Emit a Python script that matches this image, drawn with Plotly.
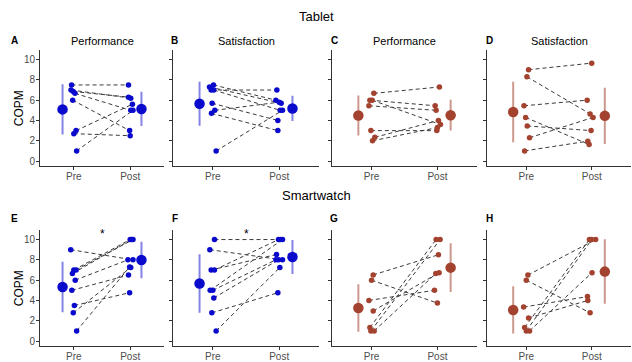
import numpy as np
import plotly.graph_objects as go

# ---------------- data (pairs: pre[i] -> post[i]) ----------------
A_pre = [7.5, 7.0, 6.86, 6.67, 6.0, 3.0, 2.7, 1.0]
A_post = [7.5, 6.2, 6.3, 5.0, 3.0, 5.6, 2.5, 5.0]
A_jpre = [-0.04, -0.05, -0.01, 0.02, -0.02, 0.04, 0.0, 0.05]
A_jpost = [-0.03, 0.01, -0.03, 0.01, -0.01, 0.04, 0.0, 0.05]

B_pre = [7.5, 7.3, 7.0, 7.0, 5.7, 5.0, 4.7, 1.0]
B_post = [6.0, 5.7, 7.0, 5.0, 4.0, 5.8, 3.0, 5.0]
B_jpre = [0.01, -0.05, -0.025, 0.015, -0.01, 0.03, -0.02, 0.05]
B_jpost = [-0.05, 0.03, -0.035, 0.015, -0.02, 0.0, -0.02, 0.05]

C_pre = [6.67, 6.0, 6.0, 5.45, 3.0, 2.34, 2.0]
C_post = [7.3, 5.45, 3.6, 5.0, 3.0, 4.0, 3.3]
C_jpre = [0.035, -0.025, 0.01, -0.04, -0.01, 0.05, 0.015]
C_jpost = [0.03, -0.035, 0.045, -0.02, -0.01, 0.015, 0.0]

D_pre = [9.0, 8.3, 5.45, 4.3, 3.46, 2.3, 1.0]
D_post = [9.65, 4.65, 6.0, 1.63, 3.0, 4.3, 1.96]
D_jpre = [0.035, 0.01, -0.035, -0.01, 0.015, 0.05, -0.025]
D_jpost = [0.0, -0.025, -0.07, -0.04, -0.01, 0.02, -0.06]

E_pre = [9.0, 7.0, 7.0, 6.65, 6.0, 5.0, 3.5, 2.78, 1.0]
E_post = [8.0, 10.0, 10.0, 10.0, 8.0, 6.5, 4.76, 7.25, 7.3]
E_jpre = [-0.055, 0.0, 0.04, -0.025, 0.025, -0.035, 0.01, -0.01, 0.05]
E_jpost = [0.05, 0.0, 0.05, 0.025, -0.04, -0.03, -0.01, 0.01, -0.01]

F_pre = [10.0, 9.0, 7.0, 7.0, 5.0, 5.0, 4.25, 2.78, 1.0]
F_post = [10.0, 8.0, 8.53, 10.0, 10.0, 8.0, 8.0, 4.76, 7.25]
F_jpre = [0.025, -0.045, -0.025, 0.025, -0.04, 0.0, 0.015, -0.015, 0.05]
F_jpost = [0.02, 0.05, -0.04, -0.01, 0.05, -0.05, -0.01, -0.02, 0.01]

G_pre = [6.52, 6.0, 4.0, 2.97, 1.34, 1.0, 1.0]
G_post = [8.5, 3.74, 5.0, 6.74, 10.0, 10.0, 6.65]
G_jpre = [0.025, 0.0, -0.04, 0.025, -0.025, -0.01, 0.04]
G_jpost = [0.015, 0.0, -0.045, 0.025, -0.02, 0.04, -0.025]

H_pre = [6.5, 6.0, 3.35, 2.27, 1.34, 1.0, 1.0]
H_post = [10.0, 2.78, 4.38, 4.0, 10.0, 10.0, 6.74]
H_jpre = [0.025, 0.0, -0.04, 0.035, -0.025, 0.0, 0.05]
H_jpost = [0.06, -0.025, -0.065, -0.06, -0.035, 0.0, 0.005]

panel_letters = ["A", "B", "C", "D", "E", "F", "G", "H"]
panel_titles = ["Performance", "Satisfaction", "Performance", "Satisfaction"]
row_titles = ["Tablet", "Smartwatch"]
time_labels = ["Pre", "Post"]
y_ticks = [0, 2, 4, 6, 8, 10]
y_title = "COPM"
star_panels = ["E", "F"]

BLUE = "#0A0ACD"
BLUE_BAR = "rgba(10,10,205,0.5)"
BROWN = "#A3432F"
BROWN_BAR = "rgba(163,67,47,0.55)"

panels = [
    (A_pre, A_post, A_jpre, A_jpost, BLUE, BLUE_BAR),
    (B_pre, B_post, B_jpre, B_jpost, BLUE, BLUE_BAR),
    (C_pre, C_post, C_jpre, C_jpost, BROWN, BROWN_BAR),
    (D_pre, D_post, D_jpre, D_jpost, BROWN, BROWN_BAR),
    (E_pre, E_post, E_jpre, E_jpost, BLUE, BLUE_BAR),
    (F_pre, F_post, F_jpre, F_jpost, BLUE, BLUE_BAR),
    (G_pre, G_post, G_jpre, G_jpost, BROWN, BROWN_BAR),
    (H_pre, H_post, H_jpre, H_jpost, BROWN, BROWN_BAR),
]

# ---------------- layout geometry (pixels) ----------------
W, H = 632, 362
col_px = [(40, 164), (173, 319), (332, 477), (487, 631)]
row_px = [(51, 168), (233, 350)]


def xd(a, b):
    return [a / W, b / W]


def yd(top, bot):
    return [1 - bot / H, 1 - top / H]


fig = go.Figure()
layout = dict(
    width=W, height=H, margin=dict(l=0, r=0, t=0, b=0),
    plot_bgcolor="white", paper_bgcolor="white", showlegend=False,
    font=dict(family="Liberation Sans, Arial, sans-serif", size=10, color="black"),
)
annotations = []
X_PRE, X_POST, OFF = 1.0, 2.0, 0.2

for i, (pre, post, jpre, jpost, col, barcol) in enumerate(panels):
    k = i + 1
    r, c = divmod(i, 4)
    xs = "x" if k == 1 else f"x{k}"
    ys = "y" if k == 1 else f"y{k}"
    pre = np.array(pre)
    post = np.array(post)
    xpre = X_PRE + np.array(jpre)
    xpost = X_POST + np.array(jpost)

    # paired dashed lines
    for a, b, xa, xb in zip(pre, post, xpre, xpost):
        fig.add_trace(go.Scatter(x=[xa, xb], y=[a, b], mode="lines", xaxis=xs, yaxis=ys,
                                 line=dict(color="#3a3a3a", width=1, dash="4px,3px"),
                                 hoverinfo="skip"))
    # individual points
    fig.add_trace(go.Scatter(x=np.concatenate([xpre, xpost]), y=np.concatenate([pre, post]),
                             mode="markers", xaxis=xs, yaxis=ys,
                             marker=dict(color=col, size=5.5, line=dict(width=0))))
    # mean +- sd
    for vals, xm in ((pre, X_PRE - OFF), (post, X_POST + OFF)):
        m = vals.mean()
        s = vals.std(ddof=1)
        fig.add_trace(go.Scatter(x=[xm, xm], y=[m - s, m + s], mode="lines", xaxis=xs, yaxis=ys,
                                 line=dict(color=barcol, width=2)))
        fig.add_trace(go.Scatter(x=[xm], y=[m], mode="markers", xaxis=xs, yaxis=ys,
                                 marker=dict(color=col, size=10.5, line=dict(width=0))))

    xkey = "xaxis" if k == 1 else f"xaxis{k}"
    ykey = "yaxis" if k == 1 else f"yaxis{k}"
    layout[xkey] = dict(
        domain=xd(*col_px[c]), anchor=ys, range=[0.4, 2.6],
        tickvals=[X_PRE, X_POST], ticktext=time_labels,
        showline=True, linecolor="#333333", linewidth=1,
        ticks="outside", ticklen=3, tickcolor="#333333", tickwidth=1,
        tickfont=dict(size=10, color="#4D4D4D"), ticklabelstandoff=-2,
        showgrid=False, zeroline=False, fixedrange=True,
    )
    layout[ykey] = dict(
        domain=yd(*row_px[r]), anchor=xs, range=[-0.5, 10.9],
        tickvals=y_ticks, showticklabels=(c == 0),
        showline=True, linecolor="#333333", linewidth=1,
        ticks="outside", ticklen=3, tickcolor="#333333", tickwidth=1,
        tickfont=dict(size=10, color="#4D4D4D"), ticklabelstandoff=-1,
        showgrid=False, zeroline=False, fixedrange=True,
    )
    if c == 0:
        mid = (row_px[r][0] + row_px[r][1]) / 2
        annotations.append(dict(text=y_title, xref="paper", yref="paper", x=19 / W, y=1 - mid / H,
                                textangle=-90, showarrow=False, xanchor="center", yanchor="middle",
                                font=dict(size=12, color="black")))

    # panel letter
    letter_x = [14, 175, 334, 489][c]
    letter_y = [41, 221][r]
    annotations.append(dict(text=f"<b>{panel_letters[i]}</b>", xref="paper", yref="paper",
                            x=letter_x / W, y=1 - letter_y / H, showarrow=False,
                            xanchor="center", yanchor="middle", font=dict(size=10, color="black")))
    if r == 0:
        annotations.append(dict(text=panel_titles[c], xref="paper", yref="paper",
                                x=(col_px[c][0] + col_px[c][1]) / 2 / W, y=1 - 41 / H,
                                showarrow=False, xanchor="center", yanchor="middle",
                                font=dict(size=11, color="black")))
    if panel_letters[i] in star_panels:
        annotations.append(dict(text="*", xref=xs, yref=ys, x=1.5, y=10.55, showarrow=False,
                                xanchor="center", yanchor="middle",
                                font=dict(size=12, color="black")))

for t, py in zip(row_titles, [17, 198]):
    annotations.append(dict(text=t, xref="paper", yref="paper", x=316 / W, y=1 - py / H,
                            showarrow=False, xanchor="center", yanchor="middle",
                            font=dict(size=13, color="black")))

layout["annotations"] = annotations
fig.update_layout(**layout)
fig.write_html("out.html", config={"displayModeBar": False},
               post_script="document.body.style.margin='0';")
